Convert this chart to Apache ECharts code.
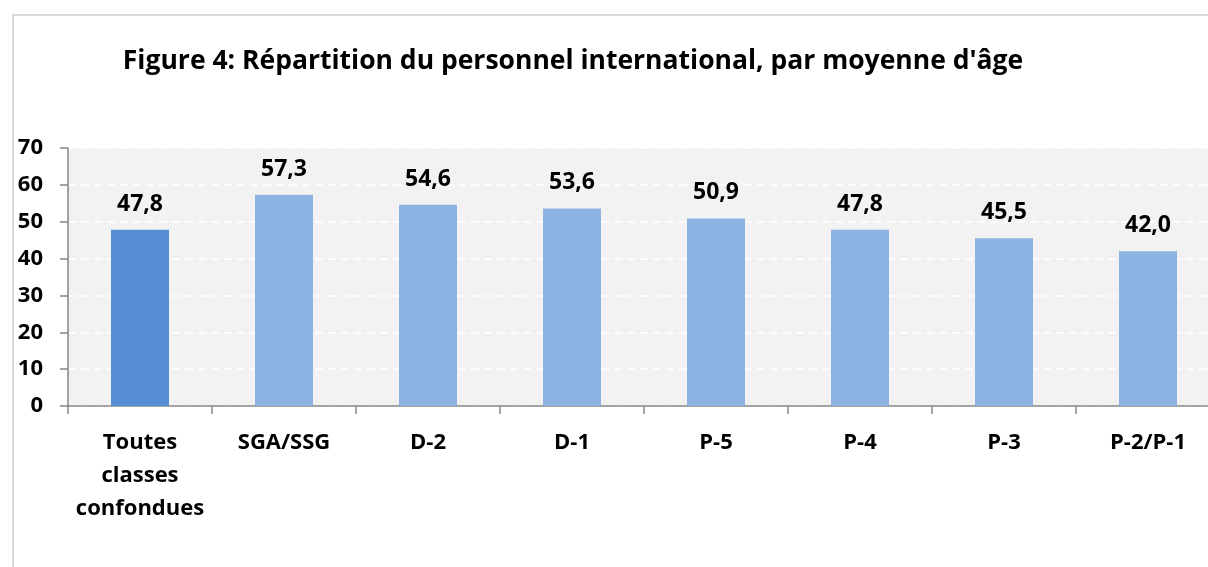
<!DOCTYPE html>
<html>
<head>
<meta charset="utf-8">
<script src="https://cdn.jsdelivr.net/npm/echarts@6/dist/echarts.min.js"></script>
<style>
  html, body { margin: 0; padding: 0; background: #fff; overflow: hidden; }
  #frame {
    position: absolute; left: 12px; top: 14px;
    width: 1300px; height: 700px;
    border: 2px solid #d9d9d9;
  }
  #main { position: absolute; left: 0; top: 0; width: 1240px; height: 567px; }
</style>
</head>
<body>
<div id="frame"></div>
<div id="main"></div>
<script>
// catégories et valeurs
var categories = ["Toutes\nclasses\nconfondues", "SGA/SSG", "D-2", "D-1", "P-5", "P-4", "P-3", "P-2/P-1"];
var ages = [47.8, 57.3, 54.6, 53.6, 50.9, 47.8, 45.5, 42.0];
var yTicks = [0, 10, 20, 30, 40, 50, 60, 70];

var chart = echarts.init(document.getElementById("main"));
var font = "'Open Sans', 'Liberation Sans', sans-serif";

var option = {
  animation: false,
  title: {
    text: "Figure 4: Répartition du personnel international, par moyenne d'âge",
    left: 568,
    top: 43,
    textAlign: "center",
    textStyle: { fontFamily: font, fontWeight: "bold", fontSize: 26.5, color: "#000" }
  },
  grid: { left: 68, top: 148, width: 1152, height: 258, containLabel: false },
  xAxis: {
    type: "category",
    data: categories,
    axisLine: { lineStyle: { color: "#868686", width: 1.5 } },
    axisTick: { show: true, length: 8, lineStyle: { color: "#868686", width: 1.5 } },
    axisLabel: {
      margin: 20, interval: 0,
      fontFamily: font, fontWeight: "bold", fontSize: 22, color: "#000",
      lineHeight: 33
    }
  },
  yAxis: {
    type: "value",
    min: yTicks[0],
    max: yTicks[yTicks.length - 1],
    interval: 10,
    axisLine: { show: true, lineStyle: { color: "#868686", width: 1.5 } },
    axisTick: { show: true, length: 8, lineStyle: { color: "#868686", width: 1.5 } },
    axisLabel: { margin: 25, fontFamily: font, fontWeight: "bold", fontSize: 22, color: "#000" },
    splitLine: { lineStyle: { color: "#ffffff", type: [8, 5], width: 1.5 } },
    splitArea: { show: true, areaStyle: { color: ["#f2f2f2", "#f2f2f2"] } }
  },
  series: [{
    type: "bar",
    barWidth: 58,
    data: ages.map(function (v, i) {
      return { value: v, itemStyle: { color: i === 0 ? "#558ed5" : "#8db3e2" } };
    }),
    label: {
      show: true,
      position: "top",
      distance: 14,
      fontFamily: font, fontWeight: "bold", fontSize: 23, color: "#000",
      formatter: function (p) { return p.value.toFixed(1).replace(".", ","); }
    }
  }]
};

chart.setOption(option);
</script>
</body>
</html>
